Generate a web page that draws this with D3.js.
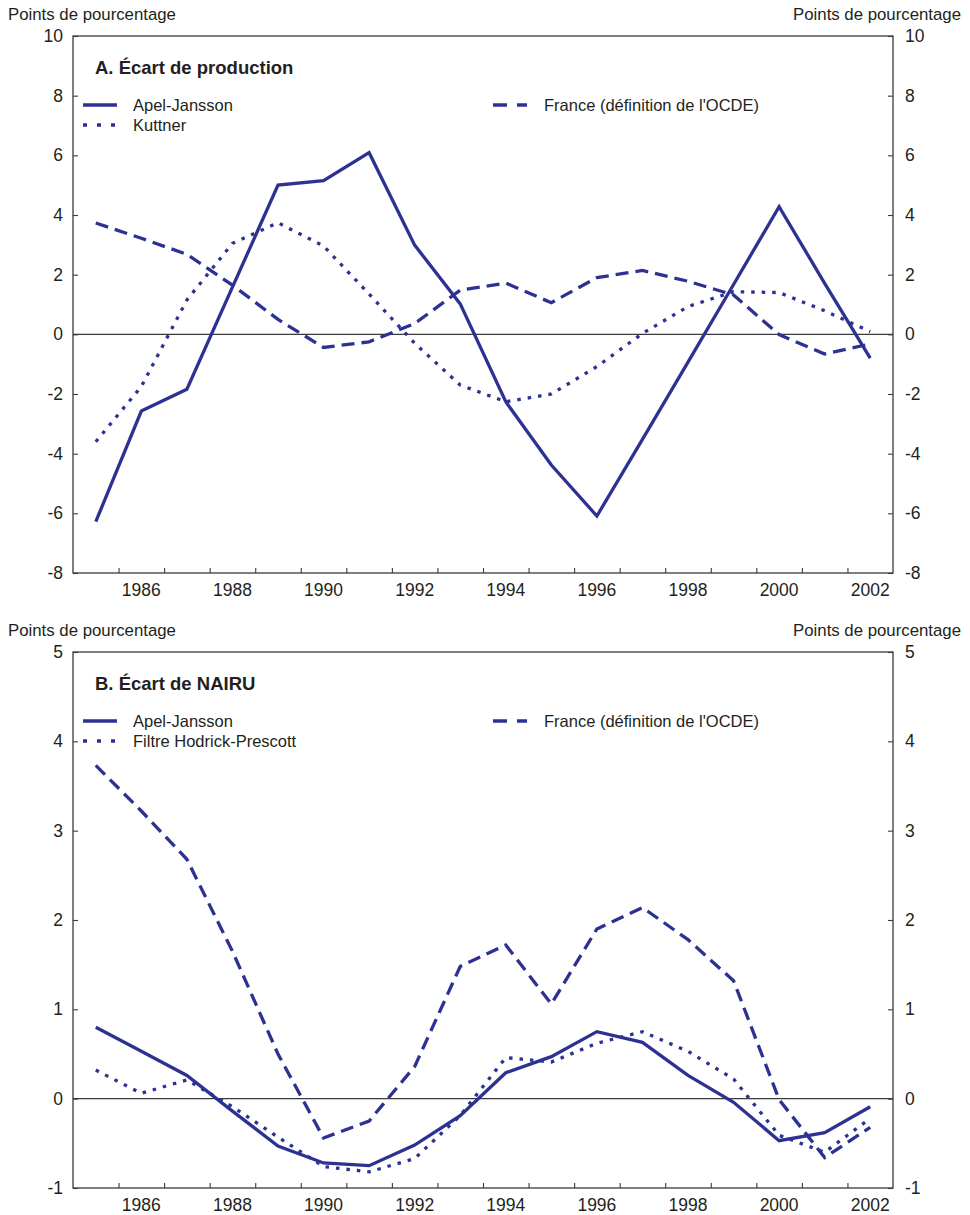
<!DOCTYPE html>
<html>
<head>
<meta charset="utf-8">
<script src="https://cdn.jsdelivr.net/npm/d3@7"></script>
<style>
  html, body { margin: 0; padding: 0; background: #fff; }
  svg text { font-family: "Liberation Sans", Arial, Helvetica, sans-serif; fill: #231f20; }
</style>
</head>
<body>
<svg id="chart" width="970" height="1215"></svg>
<script>
// Years shared by both panels
const years = d3.range(1985, 2003);

// Panel A: output gap (percentage points)
const outputApelJansson = [-6.28, -2.57, -1.84, 1.58, 5.0, 5.15, 6.09, 2.99, 1.02, -2.26, -4.38, -6.09, -3.52, -0.93, 1.67, 4.28, 1.71, -0.80];
const outputKuttner     = [-3.60, -1.75, 1.15, 3.05, 3.74, 2.96, 1.35, -0.30, -1.70, -2.26, -2.00, -1.08, 0.03, 0.93, 1.43, 1.40, 0.79, 0.09];
// OECD definition for France (same series appears in both panels)
const franceOECD        = [3.73, 3.22, 2.68, 1.65, 0.50, -0.44, -0.25, 0.36, 1.48, 1.72, 1.06, 1.90, 2.14, 1.78, 1.32, -0.01, -0.66, -0.32];

// Panel B: NAIRU gap (percentage points)
const nairuApelJansson  = [0.80, 0.53, 0.26, -0.14, -0.53, -0.72, -0.75, -0.52, -0.19, 0.29, 0.47, 0.75, 0.63, 0.26, -0.04, -0.47, -0.38, -0.09];
const nairuHP           = [0.32, 0.06, 0.21, -0.09, -0.43, -0.76, -0.82, -0.67, -0.19, 0.46, 0.41, 0.62, 0.75, 0.53, 0.22, -0.41, -0.60, -0.22];

// Axis ticks and labels
const xLabelYears = [1986, 1988, 1990, 1992, 1994, 1996, 1998, 2000, 2002];
const xTickPositions = d3.range(1985.5, 2002.5, 1);
const yTicksA = [10, 8, 6, 4, 2, 0, -2, -4, -6, -8];
const yTicksB = [5, 4, 3, 2, 1, 0, -1];

const unitLabel = "Points de pourcentage";
const panelA = {
  title: "A. Écart de production",
  domain: [-8, 10], ticks: yTicksA,
  series: [
    { name: "Apel-Jansson", values: outputApelJansson, style: "solid" },
    { name: "Kuttner", values: outputKuttner, style: "dot" },
    { name: "France (définition de l'OCDE)", values: franceOECD, style: "dash" }
  ]
};
const panelB = {
  title: "B. Écart de NAIRU",
  domain: [-1, 5], ticks: yTicksB,
  series: [
    { name: "Apel-Jansson", values: nairuApelJansson, style: "solid" },
    { name: "Filtre Hodrick-Prescott", values: nairuHP, style: "dot" },
    { name: "France (définition de l'OCDE)", values: franceOECD, style: "dash" }
  ]
};

const lineColor = "#2d3192";
const frameColor = "#3a3a3a";
const dashes = { solid: null, dot: "3.5,7", dash: "13,7" };
// plain hyphen for negative numbers
const fmt = d => String(d);

const svg = d3.select("#chart");
const x = d3.scaleLinear().domain([1984.5, 2002.5]).range([73, 893]);

function drawPanel(panel, top, bottom) {
  const g = svg.append("g");
  const y = d3.scaleLinear().domain(panel.domain).range([bottom, top]);
  const left = x.range()[0], right = x.range()[1];

  // unit labels
  g.append("text").attr("x", 8).attr("y", top - 16).attr("font-size", 16.8).text(unitLabel);
  g.append("text").attr("x", 961).attr("y", top - 16).attr("font-size", 16.8)
    .attr("text-anchor", "end").text(unitLabel);

  // zero line
  g.append("line").attr("x1", left).attr("x2", right)
    .attr("y1", y(0)).attr("y2", y(0))
    .attr("stroke", frameColor).attr("stroke-width", 1.1);

  // left and right axes with inward ticks
  const yl = d3.axisLeft(y).tickValues(panel.ticks).tickSize(-5).tickPadding(10).tickFormat(fmt);
  const yr = d3.axisRight(y).tickValues(panel.ticks).tickSize(-5).tickPadding(12).tickFormat(fmt);
  const gl = g.append("g").attr("transform", `translate(${left},0)`).call(yl);
  const gr = g.append("g").attr("transform", `translate(${right},0)`).call(yr);

  // bottom axis: ticks between years, labels on even years
  const xb = d3.axisBottom(x).tickValues(xTickPositions).tickSize(-5).tickFormat("");
  const gb = g.append("g").attr("transform", `translate(0,${bottom})`).call(xb);
  g.append("g").selectAll("text").data(xLabelYears).join("text")
    .attr("x", d => x(d)).attr("y", bottom + 23)
    .attr("text-anchor", "middle").attr("font-size", 17.5).text(d => d);

  [gl, gr, gb].forEach(a => {
    a.select(".domain").remove();
    a.selectAll(".tick line").attr("stroke", frameColor).attr("stroke-width", 1.1);
    a.selectAll(".tick text").attr("font-size", 17.5).attr("fill", "#231f20")
      .attr("font-family", '"Liberation Sans", Arial, sans-serif');
  });

  // series
  const line = d3.line().x((d, i) => x(years[i])).y(d => y(d));
  panel.series.forEach(s => {
    g.append("path").datum(s.values)
      .attr("d", line)
      .attr("fill", "none")
      .attr("stroke", lineColor)
      .attr("stroke-width", 3.3)
      .attr("stroke-linejoin", "miter")
      .attr("stroke-dasharray", dashes[s.style]);
  });

  // frame
  g.append("rect").attr("x", left).attr("y", top)
    .attr("width", right - left).attr("height", bottom - top)
    .attr("fill", "none").attr("stroke", frameColor).attr("stroke-width", 1.3);

  // title
  g.append("text").attr("x", 95).attr("y", top + 38)
    .attr("font-size", 18.5).attr("font-weight", "bold").text(panel.title);

  // legend
  const legendPos = [
    { lx: 83, tx: 133, row: 0 },
    { lx: 83, tx: 133, row: 1 },
    { lx: 493, tx: 544, row: 0 }
  ];
  panel.series.forEach((s, i) => {
    const p = legendPos[i];
    const cy = top + 69 + p.row * 20;
    g.append("line").attr("x1", p.lx).attr("x2", p.lx + 34)
      .attr("y1", cy).attr("y2", cy)
      .attr("stroke", lineColor).attr("stroke-width", 3.3)
      .attr("stroke-dasharray", s.style === "dot" ? "4,10" : s.style === "dash" ? "14,10" : null);
    g.append("text").attr("x", p.tx).attr("y", cy + 6)
      .attr("font-size", 16.5).text(s.name);
  });
}

drawPanel(panelA, 36, 573);
drawPanel(panelB, 652, 1188);
</script>
</body>
</html>
